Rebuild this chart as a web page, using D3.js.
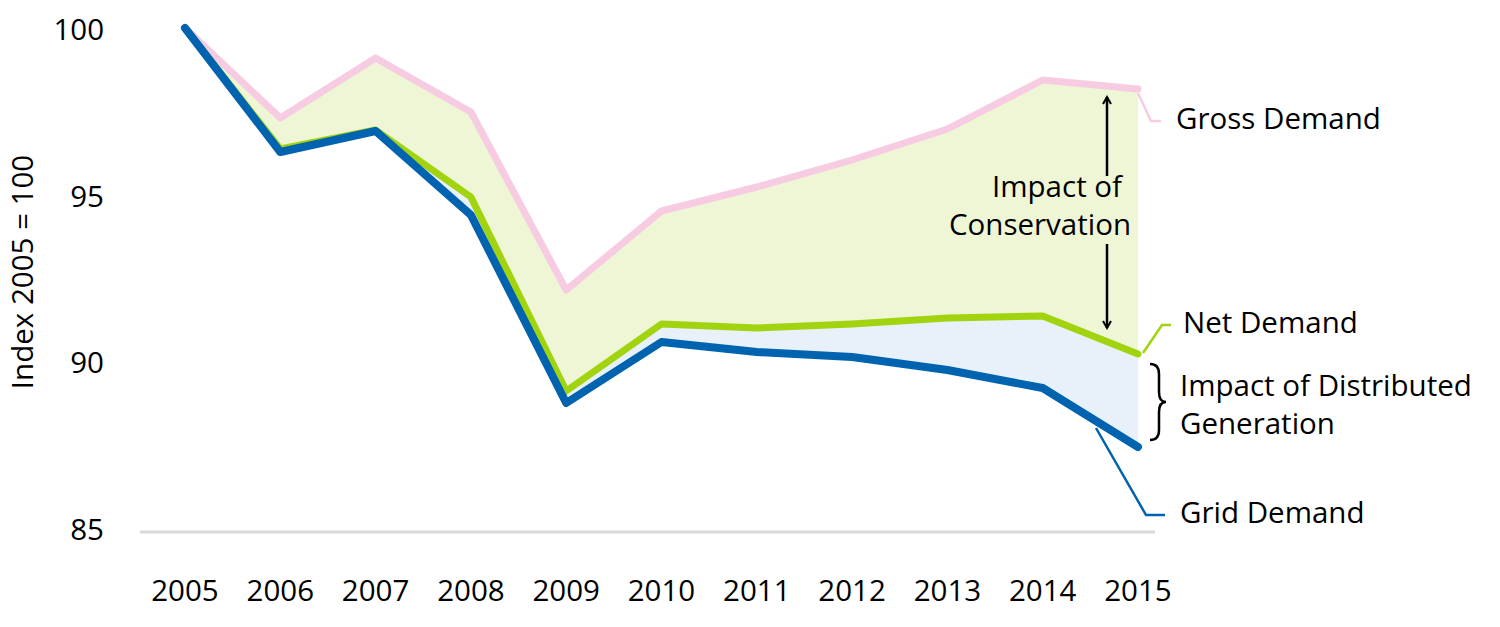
<!DOCTYPE html>
<html><head><meta charset="utf-8">
<script src="https://cdn.jsdelivr.net/npm/d3@7"></script>
<style>body{margin:0;background:#fff}svg{display:block;font-family:"Segoe UI","Open Sans","Noto Sans",sans-serif}</style>
</head><body><svg id="c" width="1500" height="627"></svg>
<script>
const years = [2005,2006,2007,2008,2009,2010,2011,2012,2013,2014,2015];
const gross = [100,97.3,99.1,97.48,92.14,94.51,95.23,96.04,96.97,98.44,98.17];
const net   = [100,96.37,96.94,94.93,89.11,91.12,91.0,91.12,91.3,91.36,90.22];
const grid  = [100,96.28,96.91,94.39,88.75,90.58,90.28,90.13,89.74,89.2,87.43];
const yTicks = [85,90,95,100];

const FS = 29.5;
const svg = d3.select("#c");
const x = d3.scaleLinear().domain([2005,2015]).range([185,1138]);
const y = d3.scaleLinear().domain([85,100]).range([528,28]);

const rows = years.map((yr,i)=>({yr,g:gross[i],n:net[i],d:grid[i]}));

// areas
svg.append("path").datum(rows)
  .attr("d", d3.area().x(d=>x(d.yr)).y0(d=>y(d.n)).y1(d=>y(d.g)))
  .attr("fill","#eef6d6");
svg.append("path").datum(rows)
  .attr("d", d3.area().x(d=>x(d.yr)).y0(d=>y(d.d)).y1(d=>y(d.n)))
  .attr("fill","#e8f1fa");

// x axis line
svg.append("line").attr("x1",140).attr("x2",1155).attr("y1",y(85)+4).attr("y2",y(85)+4)
  .attr("stroke","#d9d9d9").attr("stroke-width",3);

// y tick labels
svg.selectAll(".yt").data(yTicks).join("text")
  .attr("x",104).attr("y",d=>y(d)+4).attr("text-anchor","end")
  .attr("dominant-baseline","middle").attr("font-size",FS).attr("fill","#000").text(d=>d);

// x tick labels
svg.selectAll(".xt").data(years).join("text")
  .attr("x",d=>x(d)).attr("y",593).attr("text-anchor","middle")
  .attr("dominant-baseline","middle").attr("font-size",FS).attr("fill","#000").text(d=>d);

// y title
svg.append("text").attr("transform","translate(25,272) rotate(-90)")
  .attr("text-anchor","middle").attr("dominant-baseline","middle")
  .attr("font-size",FS).text("Index 2005 = 100");

// lines
const line = k => d3.line().x(d=>x(d.yr)).y(d=>y(d[k]));
svg.append("path").datum(rows).attr("d",line("g")).attr("fill","none")
  .attr("stroke","#f7cce2").attr("stroke-width",7).attr("stroke-linejoin","round").attr("stroke-linecap","round");
svg.append("path").datum(rows).attr("d",line("n")).attr("fill","none")
  .attr("stroke","#a2d30f").attr("stroke-width",7).attr("stroke-linejoin","round").attr("stroke-linecap","round");
svg.append("path").datum(rows).attr("d",line("d")).attr("fill","none")
  .attr("stroke","#0063b0").attr("stroke-width",8).attr("stroke-linejoin","round").attr("stroke-linecap","round");

const last = rows[rows.length-1];
const xl = x(last.yr);

// leader lines
svg.append("path").attr("d",`M${xl},${y(last.g)+4} L${xl+13},${121} L${xl+23},${121}`)
  .attr("fill","none").attr("stroke","#f7cce2").attr("stroke-width",2.5);
svg.append("path").attr("d",`M${xl+5},${y(last.n)-1} L${xl+24},${325} L${xl+33},${325}`)
  .attr("fill","none").attr("stroke","#a2d30f").attr("stroke-width",2.5);
svg.append("path").attr("d",`M${xl-42},${428} L${xl+8},${515} L${xl+27},${515}`)
  .attr("fill","none").attr("stroke","#0063b0").attr("stroke-width",2.5);

// labels
const lab = (t,xx,yy)=>svg.append("text").attr("x",xx).attr("y",yy).attr("dominant-baseline","middle")
  .attr("font-size",FS).attr("fill","#000").text(t);
lab("Gross Demand",1176,121);
lab("Net Demand",1183,325);
lab("Impact of Distributed",1180,388);
lab("Generation",1180,426);
lab("Grid Demand",1180,515);

// conservation annotation
const ax = 1107;
svg.append("defs").append("marker").attr("id","ah").attr("viewBox","0 0 10 10")
  .attr("refX",8).attr("refY",5).attr("markerWidth",4).attr("markerHeight",4).attr("orient","auto-start-reverse")
  .append("path").attr("d","M1,1 L8,5 L1,9").attr("fill","none").attr("stroke","#000").attr("stroke-width",2);
svg.append("line").attr("x1",ax).attr("x2",ax).attr("y1",176).attr("y2",97)
  .attr("stroke","#000").attr("stroke-width",2.5).attr("marker-end","url(#ah)");
svg.append("line").attr("x1",ax).attr("x2",ax).attr("y1",244).attr("y2",328)
  .attr("stroke","#000").attr("stroke-width",2.5).attr("marker-end","url(#ah)");
svg.append("text").attr("x",1122).attr("y",189).attr("text-anchor","end").attr("dominant-baseline","middle")
  .attr("font-size",FS).text("Impact of");
svg.append("text").attr("x",1131).attr("y",227).attr("text-anchor","end").attr("dominant-baseline","middle")
  .attr("font-size",FS).text("Conservation");

// brace
const bx = 1150, by0 = 364, by1 = 440, bm = (by0+by1)/2;
svg.append("path").attr("d",
  `M${bx},${by0} Q${bx+9},${by0} ${bx+9},${by0+10} L${bx+9},${bm-10} Q${bx+9},${bm} ${bx+16},${bm}
   Q${bx+9},${bm} ${bx+9},${bm+10} L${bx+9},${by1-10} Q${bx+9},${by1} ${bx},${by1}`)
  .attr("fill","none").attr("stroke","#000").attr("stroke-width",2.5);
</script></body></html>
